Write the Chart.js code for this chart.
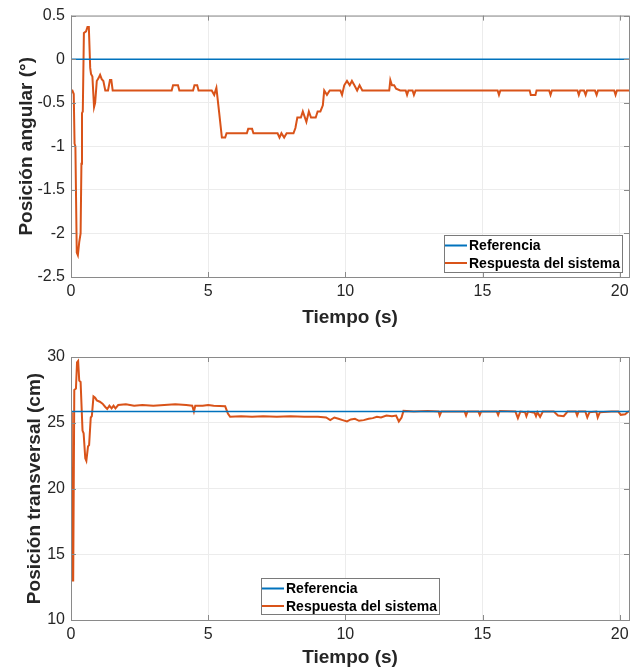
<!DOCTYPE html>
<html>
<head>
<meta charset="utf-8">
<script src="https://cdn.jsdelivr.net/npm/chart.js@4.4.0/dist/chart.umd.min.js"></script>
<style>
  body { margin: 0; background: #fff; }
  #wrap { position: relative; width: 637px; height: 672px; }
  canvas { position: absolute; left: 0; }
</style>
</head>
<body>
<div id="wrap">
  <canvas id="top" width="637" height="330" style="top:0"></canvas>
  <canvas id="bottom" width="637" height="342" style="top:330px"></canvas>
</div>
<script>
// series data
const legendLabels = ["Referencia", "Respuesta del sistema"];
const xTicks = [0, 5, 10, 15, 20];
const xMax = 20.34;

const angularRef = 0;
const angularTime = [0, 0.05, 0.1, 0.13, 0.16, 0.21, 0.25, 0.3, 0.35, 0.38, 0.4, 0.43, 0.47, 0.55, 0.6, 0.65, 0.7, 0.73, 0.78, 0.84, 0.88, 0.94, 1.0, 1.06, 1.12, 1.18, 1.25, 1.35, 1.42, 1.47, 1.52, 3.67, 3.72, 3.9, 3.95, 4.45, 4.5, 4.6, 4.65, 5.13, 5.22, 5.3, 5.4, 5.5, 5.62, 5.67, 6.41, 6.46, 6.6, 6.65, 7.53, 7.6, 7.67, 7.77, 7.86, 8.11, 8.18, 8.25, 8.38, 8.45, 8.58, 8.67, 8.75, 8.92, 8.99, 9.09, 9.18, 9.23, 9.33, 9.43, 9.82, 9.88, 9.96, 10.06, 10.16, 10.24, 10.33, 10.43, 10.52, 10.62, 11.6, 11.64, 11.7, 11.78, 11.85, 12.0, 12.2, 12.25, 12.3, 12.45, 12.5, 12.56, 15.55, 15.6, 15.65, 16.72, 16.76, 16.93, 16.97, 17.43, 17.48, 17.53, 18.46, 18.51, 18.56, 18.7, 18.76, 18.81, 19.1, 19.16, 19.21, 19.8, 19.85, 19.9, 20.34];
const angularResp = [-0.36, -0.36, -0.4, -0.97, -1.0, -2.22, -2.25, -2.1, -2.0, -1.2, -0.62, -0.6, 0.3, 0.32, 0.37, 0.37, -0.1, -0.17, -0.2, -0.55, -0.5, -0.25, -0.22, -0.18, -0.23, -0.25, -0.36, -0.36, -0.24, -0.24, -0.36, -0.36, -0.3, -0.3, -0.36, -0.36, -0.3, -0.3, -0.36, -0.36, -0.41, -0.33, -0.61, -0.9, -0.9, -0.85, -0.85, -0.8, -0.8, -0.85, -0.85, -0.9, -0.85, -0.9, -0.85, -0.85, -0.79, -0.67, -0.67, -0.6, -0.72, -0.6, -0.67, -0.67, -0.6, -0.6, -0.53, -0.36, -0.41, -0.36, -0.36, -0.41, -0.3, -0.25, -0.3, -0.25, -0.3, -0.36, -0.3, -0.36, -0.36, -0.24, -0.3, -0.3, -0.34, -0.36, -0.36, -0.41, -0.36, -0.36, -0.41, -0.36, -0.36, -0.41, -0.36, -0.36, -0.41, -0.41, -0.36, -0.36, -0.41, -0.36, -0.36, -0.41, -0.36, -0.36, -0.41, -0.36, -0.36, -0.41, -0.36, -0.36, -0.41, -0.36, -0.36];
const angularTicks = [0.5, 0, -0.5, -1, -1.5, -2, -2.5];

const transRef = 25.85;
const transTime = [0, 0.03, 0.08, 0.12, 0.18, 0.22, 0.26, 0.3, 0.35, 0.42, 0.46, 0.52, 0.56, 0.62, 0.66, 0.72, 0.76, 0.82, 0.88, 0.94, 1.05, 1.15, 1.25, 1.32, 1.4, 1.48, 1.55, 1.62, 1.72, 2.0, 2.3, 2.6, 3.0, 3.4, 3.8, 4.2, 4.42, 4.48, 4.53, 4.8, 5.0, 5.2, 5.62, 5.72, 5.8, 6.2, 6.6, 7.0, 7.5, 8.0, 8.5, 9.0, 9.3, 9.45, 9.6, 9.75, 9.9, 10.06, 10.2, 10.35, 10.5, 10.67, 10.85, 11.0, 11.15, 11.3, 11.5, 11.7, 11.85, 11.95, 12.05, 12.12, 12.5, 13.0, 13.4, 13.44, 13.5, 14.35, 14.4, 14.45, 14.85, 14.9, 14.95, 15.52, 15.57, 15.62, 16.2, 16.29, 16.38, 16.55, 16.6, 16.66, 16.9, 16.95, 17.0, 17.1, 17.2, 17.6, 17.75, 17.96, 18.1, 18.4, 18.45, 18.5, 18.75, 18.82, 18.9, 19.15, 19.2, 19.28, 19.7, 19.95, 20.04, 20.2, 20.34];
const transResp = [25.8, 13.0, 13.0, 27.5, 27.6, 29.6, 29.7, 28.2, 28.1, 24.4, 24.2, 22.3, 22.1, 23.2, 23.3, 25.4, 25.5, 27.0, 26.9, 26.7, 26.6, 26.45, 26.2, 26.05, 26.3, 26.1, 26.3, 26.1, 26.35, 26.4, 26.3, 26.35, 26.3, 26.35, 26.4, 26.35, 26.3, 25.85, 26.3, 26.3, 26.35, 26.3, 26.25, 25.7, 25.45, 25.5, 25.45, 25.5, 25.45, 25.5, 25.45, 25.45, 25.4, 25.2, 25.4, 25.3, 25.2, 25.1, 25.25, 25.3, 25.15, 25.2, 25.3, 25.35, 25.45, 25.4, 25.55, 25.5, 25.55, 25.1, 25.4, 25.9, 25.85, 25.9, 25.85, 25.55, 25.85, 25.85, 25.55, 25.85, 25.85, 25.6, 25.85, 25.85, 25.6, 25.9, 25.85, 25.35, 25.85, 25.8, 25.5, 25.85, 25.75, 25.5, 25.8, 25.45, 25.85, 25.85, 25.55, 25.5, 25.85, 25.85, 25.55, 25.85, 25.85, 25.4, 25.8, 25.85, 25.4, 25.8, 25.85, 25.85, 25.6, 25.65, 25.9];
const transTicks = [30, 25, 20, 15, 10];

const BLUE = "#0072BD";
const ORANGE = "#D95319";
const TEXT = "#262626";
const AXIS = "#8a8a8a";
const FONT = "'Liberation Sans', Arial, Helvetica, sans-serif";

// box around the plot, inward ticks, and a MATLAB-style legend inside the axes
const matlabBox = {
  id: "matlabBox",
  afterDraw(chart, args, opts) {
    const { ctx, chartArea: a, scales } = chart;
    ctx.save();
    ctx.strokeStyle = AXIS;
    ctx.lineWidth = 1;
    ctx.strokeRect(a.left + 0.5, a.top + 0.5, a.right - a.left, a.bottom - a.top);
    ctx.beginPath();
    scales.x.ticks.forEach((t) => {
      const px = Math.round(scales.x.getPixelForValue(t.value)) + 0.5;
      ctx.moveTo(px, a.bottom); ctx.lineTo(px, a.bottom - 5);
      ctx.moveTo(px, a.top); ctx.lineTo(px, a.top + 5);
    });
    scales.y.ticks.forEach((t) => {
      const py = Math.round(scales.y.getPixelForValue(t.value)) + 0.5;
      ctx.moveTo(a.left, py); ctx.lineTo(a.left + 5, py);
      ctx.moveTo(a.right, py); ctx.lineTo(a.right - 5, py);
    });
    ctx.stroke();

    // legend
    const lg = opts.legend;
    ctx.fillStyle = "#fff";
    ctx.fillRect(lg.x, lg.y, lg.w, lg.h);
    ctx.strokeStyle = "#7a7a7a";
    ctx.strokeRect(lg.x + 0.5, lg.y + 0.5, lg.w, lg.h);
    ctx.font = "bold 14px " + FONT;
    ctx.textBaseline = "middle";
    ctx.fillStyle = "#000";
    const colors = [BLUE, ORANGE];
    legendLabels.forEach((label, i) => {
      const cy = lg.y + 10.5 + i * 17.5;
      ctx.strokeStyle = colors[i];
      ctx.lineWidth = 2;
      ctx.beginPath();
      ctx.moveTo(lg.x + 1, cy);
      ctx.lineTo(lg.x + 23, cy);
      ctx.stroke();
      ctx.fillText(label, lg.x + 25, cy + 1);
    });
    ctx.restore();
  },
};

function makeChart(id, cfg) {
  const refPoints = [{ x: 0, y: cfg.ref }, { x: xMax, y: cfg.ref }];
  const respPoints = cfg.time.map((t, i) => ({ x: t, y: cfg.resp[i] }));
  return new Chart(document.getElementById(id), {
    type: "line",
    data: {
      datasets: [
        { label: legendLabels[0], data: refPoints, borderColor: BLUE, borderWidth: 1.5, pointRadius: 0 },
        { label: legendLabels[1], data: respPoints, borderColor: ORANGE, borderWidth: 2, pointRadius: 0 },
      ],
    },
    options: {
      responsive: false,
      animation: false,
      devicePixelRatio: 1,
      layout: { padding: { top: cfg.padTop, right: 8, left: 0, bottom: 0 } },
      plugins: {
        legend: { display: false },
        tooltip: { enabled: false },
        matlabBox: { legend: cfg.legend },
      },
      scales: {
        x: {
          type: "linear",
          min: 0,
          max: xMax,
          afterBuildTicks: (s) => { s.ticks = xTicks.map((v) => ({ value: v })); },
          afterFit: (s) => { s.height = cfg.xHeight; },
          grid: { color: "#ececec", drawTicks: false },
          border: { display: false },
          ticks: { color: TEXT, font: { family: FONT, size: 16 }, padding: 5, maxRotation: 0, callback: (v) => String(v) },
          title: {
            display: true,
            text: "Tiempo (s)",
            color: TEXT,
            font: { family: FONT, size: 19, weight: "bold" },
            padding: { top: 0, bottom: cfg.xTitlePad },
          },
        },
        y: {
          min: cfg.min,
          max: cfg.max,
          afterBuildTicks: (s) => { s.ticks = cfg.ticks.map((v) => ({ value: v })); },
          afterFit: (s) => { s.width = 71; },
          grid: { color: "#ececec", drawTicks: false },
          border: { display: false },
          ticks: { color: TEXT, font: { family: FONT, size: 16 }, padding: 6, callback: (v) => String(v) },
          title: {
            display: true,
            text: cfg.yTitle,
            color: TEXT,
            font: { family: FONT, size: 19, weight: "bold" },
            padding: { top: cfg.yTitlePad, bottom: 0 },
          },
        },
      },
    },
    plugins: [matlabBox],
  });
}

makeChart("top", {
  ref: angularRef, time: angularTime, resp: angularResp, ticks: angularTicks,
  min: -2.5, max: 0.5, yTitle: "Posición angular (°)",
  padTop: 14, xHeight: 53, xTitlePad: 1, yTitlePad: 15,
  legend: { x: 444, y: 235, w: 178, h: 37 },
});

makeChart("bottom", {
  ref: transRef, time: transTime, resp: transResp, ticks: transTicks,
  min: 10, max: 30, yTitle: "Posición transversal (cm)",
  padTop: 27, xHeight: 52, xTitlePad: 3, yTitlePad: 23,
  legend: { x: 261, y: 248, w: 178, h: 36 },
});
</script>
</body>
</html>
